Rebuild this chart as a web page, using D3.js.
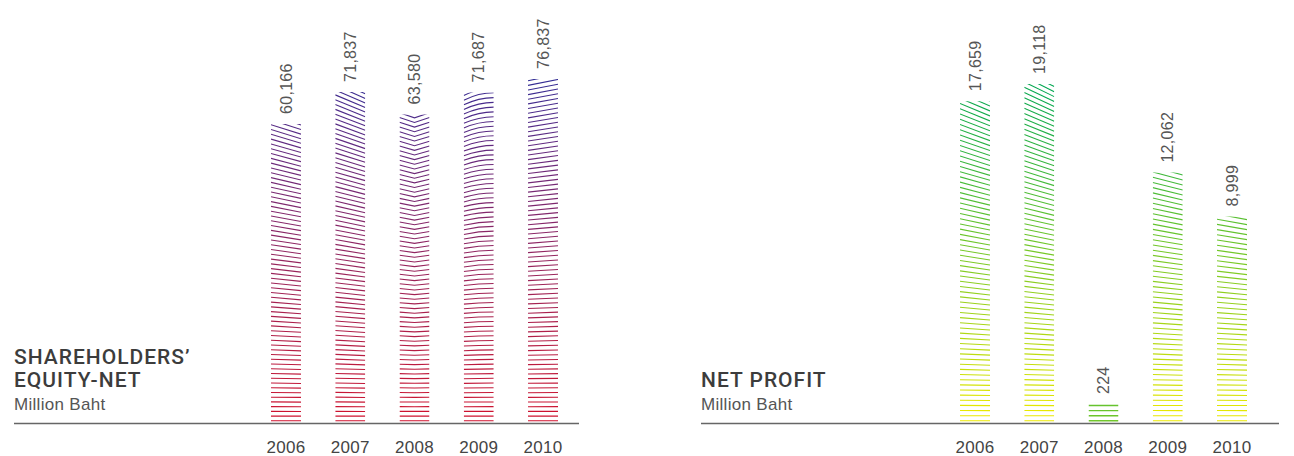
<!DOCTYPE html>
<html>
<head>
<meta charset="utf-8">
<script src="https://cdn.jsdelivr.net/npm/d3@7.9.0/dist/d3.min.js"></script>
<style>
  body { margin: 0; background: #fff; }
  text { font-family: "Liberation Sans", Arial, sans-serif; }
  .title { font-family: Roboto, "Liberation Sans", Arial, sans-serif; font-weight: 500; }
</style>
</head>
<body>
<svg id="chart" width="1294" height="456"></svg>
<script>
// data
const years = ['2006', '2007', '2008', '2009', '2010'];
const equityValues = [60166, 71837, 63580, 71687, 76837];
const profitValues = [17659, 19118, 224, 12062, 8999];
const equityTitle = ['SHAREHOLDERS’', 'EQUITY-NET'];
const profitTitle = ['NET PROFIT'];
const unitLabel = 'Million Baht';

// stripe shape of each bar (left to right)
const equityShapes = ['down', 'down', 'chevron', 'arc', 'up'];
const profitShapes = ['down', 'down', 'flat', 'down', 'down'];

const svg = d3.select('#chart');
const baseY = 422;

const panels = [
  {
    title: equityTitle, values: equityValues, shapes: equityShapes,
    lineX: [14, 579], centers: [286, 543], exponent: 0.575, maxH: 343,
    color: d3.interpolateLab('#d0102c', '#302c94'), spacing: 4.7, amps: [12, 14, 6, 8, 6],
  },
  {
    title: profitTitle, values: profitValues, shapes: profitShapes,
    lineX: [701, 1279], centers: [975, 1232], exponent: 0.66, maxH: 338,
    color: d3.interpolateRgb('#eeea00', '#00a651'), spacing: 5.1, amps: [14, 15, 0, 13, 12],
  },
];

const defs = svg.append('defs');
const fmt = d3.format(',');

panels.forEach((p, pi) => {
  const g = svg.append('g');

  const x = d3.scalePoint().domain(years).range(p.centers);
  const h = d3.scalePow().exponent(p.exponent)
    .domain([0, d3.max(p.values)])
    .range([0, p.maxH]);
  const barW = 30;

  years.forEach((yr, i) => {
    const v = p.values[i];
    const H = h(v);
    const cx = x(yr);
    const x0 = cx - barW / 2, x1 = cx + barW / 2;
    const amp = p.amps[i];
    const shape = p.shapes[i];
    const clipId = `clip-${pi}-${i}`;
    // short bars get pushed toward the top colour
    const bias = 0.65 * Math.pow(1 - H / p.maxH, 4);

    defs.append('clipPath').attr('id', clipId)
      .append('rect')
      .attr('x', x0).attr('y', baseY - H)
      .attr('width', barW).attr('height', H);

    const stripes = d3.range(1.2, H + amp, p.spacing);
    g.append('g')
      .attr('clip-path', `url(#${clipId})`)
      .selectAll('path')
      .data(stripes)
      .join('path')
      .attr('fill', 'none')
      .attr('stroke-width', shape === 'flat' ? 1.4 : 1.1)
      .attr('stroke', d => {
        const t = d / p.maxH + bias;
        return p.color(Math.max(0, Math.min(1, t)));
      })
      .attr('d', d => {
        const y = baseY - d;
        const s = shape === 'flat' ? 0 : amp * Math.pow(Math.min(d, p.maxH) / p.maxH, 1.5);
        if (shape === 'down') return `M${x0},${y - s / 2}L${x1},${y + s / 2}`;
        if (shape === 'up') return `M${x0},${y + s / 2}L${x1},${y - s / 2}`;
        if (shape === 'chevron') return `M${x0},${y - s / 2}L${cx},${y + s / 2}L${x1},${y - s / 2}`;
        if (shape === 'arc') return `M${x0},${y + s / 2}Q${cx},${y - s / 2} ${x1},${y - s / 2}`;
        return `M${x0},${y}L${x1},${y}`;
      });

    // value label, rotated
    g.append('text')
      .attr('transform', `translate(${cx},${baseY - H - 10}) rotate(-90)`)
      .attr('dy', '0.35em')
      .attr('font-size', 16)
      .attr('letter-spacing', 0.3)
      .attr('fill', '#555')
      .text(fmt(v));

    // year label
    g.append('text')
      .attr('x', cx).attr('y', 453)
      .attr('text-anchor', 'middle')
      .attr('font-size', 17)
      .attr('letter-spacing', 0.3)
      .attr('fill', '#444')
      .text(yr);
  });

  // base line
  g.append('line')
    .attr('x1', p.lineX[0]).attr('x2', p.lineX[1])
    .attr('y1', 423.5).attr('y2', 423.5)
    .attr('stroke', '#666').attr('stroke-width', 1.5);

  // title block
  const tl = p.title.length;
  p.title.forEach((t, k) => {
    g.append('text')
      .attr('class', 'title')
      .attr('x', p.lineX[0]).attr('y', 387 - (tl - 1 - k) * 23)
      .attr('font-size', 21)
      .attr('letter-spacing', 1)
      .attr('fill', '#3c3c3c')
      .text(t);
  });
  g.append('text')
    .attr('x', p.lineX[0]).attr('y', 410)
    .attr('font-size', 17).attr('letter-spacing', 0.3)
    .attr('fill', '#555')
    .text(unitLabel);
});
</script>
</body>
</html>
